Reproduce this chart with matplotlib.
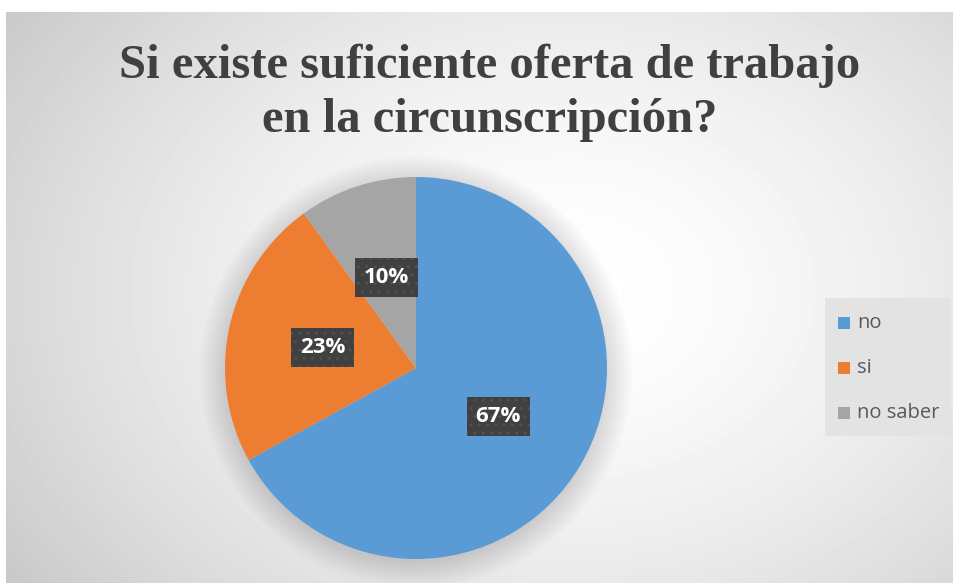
import numpy as np
import matplotlib.pyplot as plt
from matplotlib.patches import Circle, Rectangle

# data
labels = ['no', 'si', 'no saber']
values = [67, 23, 10]
colors = ['#5B9BD5', '#ED7D31', '#A5A5A5']
title = 'Si existe suficiente oferta de trabajo\nen la circunscripción?'

W, H = 954, 583
fig = plt.figure(figsize=(W / 100, H / 100), dpi=100)
fig.patch.set_facecolor('white')

# chart area background with radial gradient
bg = fig.add_axes([6 / W, 0, (W - 6) / W, (H - 12) / H])
bg.set_axis_off()
yy, xx = np.mgrid[0:H - 12, 0:W - 6]
r = np.hypot((xx - 560) / 560, (yy - 280) / 420)
shade = 1 - 0.24 * np.clip(r, 0, 1.3) ** 1.6 / 1.3 ** 1.6
bg.imshow(shade, cmap='gray', vmin=0, vmax=1, aspect='auto', interpolation='bilinear')

# pie axes
cx, cy, rad = 416, H - 368, 191
ax = fig.add_axes([(cx - rad) / W, (cy - rad) / H, 2 * rad / W, 2 * rad / H])

# soft shadow under the pie
for k in range(12):
    ax.add_patch(Circle((0, -0.02), 1.0 + 0.012 * k, color='black',
                        alpha=0.012, zorder=0, lw=0, clip_on=False))

wedges, _, autotexts = ax.pie(values, colors=colors, startangle=90, counterclock=False,
                              autopct='%1.0f%%', pctdistance=0.5, radius=1,
                              wedgeprops=dict(linewidth=0))
ax.set_xlim(-1, 1)
ax.set_ylim(-1, 1)
ax.set_axis_off()
for t in autotexts:
    t.set_color('white')
    t.set_fontsize(16)
    t.set_fontweight('bold')
    t.set_family('Open Sans')
    t.set_bbox(dict(boxstyle='square,pad=0.4', facecolor='#404040', edgecolor='#505050',
                    hatch='..', linewidth=0))
    t.set_zorder(5)

# legend
fig.patches.append(Rectangle((825 / W, (H - 436) / H), 126 / W, 138 / H,
                             transform=fig.transFigure, facecolor='#e3e3e3',
                             edgecolor='none', zorder=1))
for i, (lab, col) in enumerate(zip(labels, colors)):
    ym = H - (323 + 45 * i)
    fig.patches.append(Rectangle((838 / W, (ym - 6) / H), 12 / W, 12 / H,
                                 transform=fig.transFigure, facecolor=col,
                                 edgecolor='none', zorder=2))
    fig.text(857 / W, ym / H, lab, fontsize=14.5, color='#595959', family='Open Sans',
             va='center', ha='left', zorder=3)

fig.text(490 / W, (H - 93) / H, title, ha='center', va='center', fontsize=35,
         fontweight='bold', family='Liberation Serif', color='#404040',
         linespacing=1.3)

fig.savefig('out.png', dpi=100)
